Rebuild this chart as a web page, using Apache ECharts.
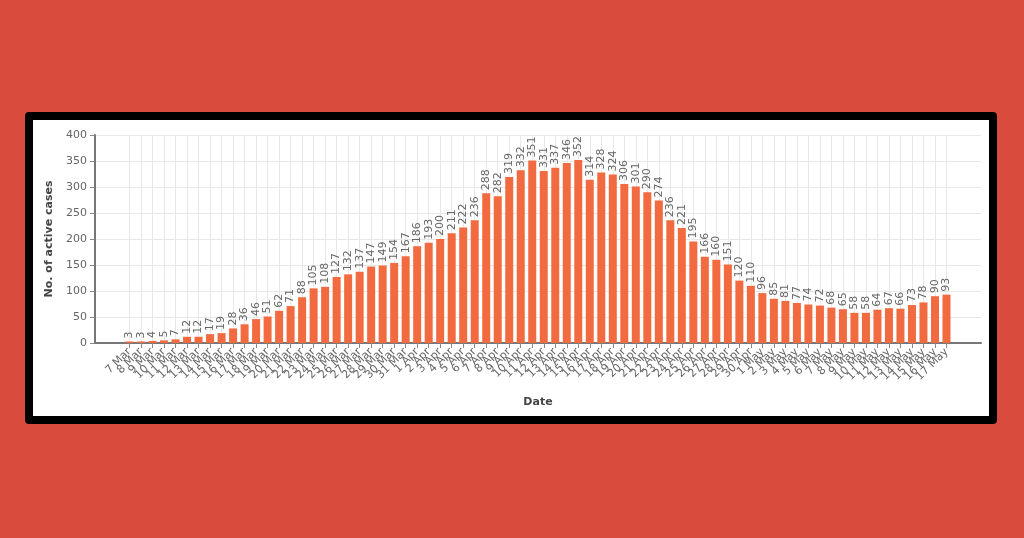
<!DOCTYPE html>
<html>
<head>
<meta charset="utf-8">
<script src="https://cdn.jsdelivr.net/npm/echarts@6/dist/echarts.min.js"></script>
<style>
  html, body { margin: 0; padding: 0; width: 1024px; height: 538px; background: #d94b3c; overflow: hidden; }
  #frame { position: absolute; left: 25px; top: 112px; width: 956px; height: 296px; border: 8px solid #000; border-radius: 4px; background: #fff; }
  #chart { position: absolute; left: 0; top: 0; width: 1024px; height: 538px; }
</style>
</head>
<body>
<div id="frame"></div>
<div id="chart"></div>
<script>
const dates = [
  '7 Mar','8 Mar','9 Mar','10 Mar','11 Mar','12 Mar','13 Mar','14 Mar','15 Mar','16 Mar','17 Mar','18 Mar','19 Mar','20 Mar','21 Mar','22 Mar','23 Mar','24 Mar','25 Mar','26 Mar','27 Mar','28 Mar','29 Mar','30 Mar','31 Mar',
  '1 Apr','2 Apr','3 Apr','4 Apr','5 Apr','6 Apr','7 Apr','8 Apr','9 Apr','10 Apr','11 Apr','12 Apr','13 Apr','14 Apr','15 Apr','16 Apr','17 Apr','18 Apr','19 Apr','20 Apr','21 Apr','22 Apr','23 Apr','24 Apr','25 Apr','26 Apr','27 Apr','28 Apr','29 Apr','30 Apr',
  '1 May','2 May','3 May','4 May','5 May','6 May','7 May','8 May','9 May','10 May','11 May','12 May','13 May','14 May','15 May','16 May','17 May'
];
const activeCases = [
  3,3,4,5,7,12,12,17,19,28,
  36,46,51,62,71,88,105,108,127,132,
  137,147,149,154,167,186,193,200,211,222,
  236,288,282,319,332,351,331,337,346,352,
  314,328,324,306,301,290,274,236,221,195,
  166,160,151,120,110,96,85,81,77,74,
  72,68,65,58,58,64,67,66,73,78,
  90,93
];
const yTicks = [0, 50, 100, 150, 200, 250, 300, 350, 400];

const PAD = 3;
const pad = n => Array.from({length: n}, () => '');
const cats = pad(PAD).concat(dates, pad(PAD));
const vals = pad(PAD).map(() => null).concat(activeCases, pad(PAD).map(() => null));
const isReal = (idx, v) => v !== '';

const chart = echarts.init(document.getElementById('chart'));
chart.setOption({
  animation: false,
  backgroundColor: 'transparent',
  textStyle: { fontFamily: 'DejaVu Sans' },
  grid: { left: 95, right: 43, top: 135, bottom: 195, containLabel: false },
  xAxis: {
    type: 'category',
    data: cats,
    boundaryGap: false,
    name: 'Date',
    nameLocation: 'middle',
    nameGap: 54,
    nameTextStyle: { fontWeight: 'bold', fontSize: 11, color: '#444', fontFamily: 'DejaVu Sans' },
    axisLine: { lineStyle: { color: '#777', width: 2 } },
    axisTick: { show: true, interval: isReal, length: 5, lineStyle: { color: '#888' } },
    axisLabel: {
      interval: 0, rotate: 45, fontSize: 11, color: '#666', margin: 7,
      fontFamily: 'DejaVu Sans', hideOverlap: false
    },
    splitLine: { show: true, interval: isReal, lineStyle: { color: '#e8e8e8' } }
  },
  yAxis: {
    type: 'value',
    min: yTicks[0],
    max: yTicks[yTicks.length - 1],
    interval: 50,
    name: 'No. of active cases',
    nameLocation: 'middle',
    nameGap: 40,
    nameTextStyle: { fontWeight: 'bold', fontSize: 11, color: '#444', fontFamily: 'DejaVu Sans' },
    axisLine: { show: true, lineStyle: { color: '#777', width: 2 } },
    axisTick: { show: true, length: 5, lineStyle: { color: '#888' } },
    axisLabel: { fontSize: 11, color: '#666', margin: 8, fontFamily: 'DejaVu Sans' },
    splitLine: { show: true, lineStyle: { color: '#e8e8e8' } }
  },
  series: [{
    type: 'bar',
    data: vals,
    barWidth: 8,
    itemStyle: { color: '#f26a3f' },
    label: {
      show: true,
      position: 'top',
      rotate: 90,
      align: 'left',
      verticalAlign: 'middle',
      distance: 3,
      fontSize: 11,
      color: '#666',
      fontFamily: 'DejaVu Sans'
    }
  }]
});
</script>
</body>
</html>
